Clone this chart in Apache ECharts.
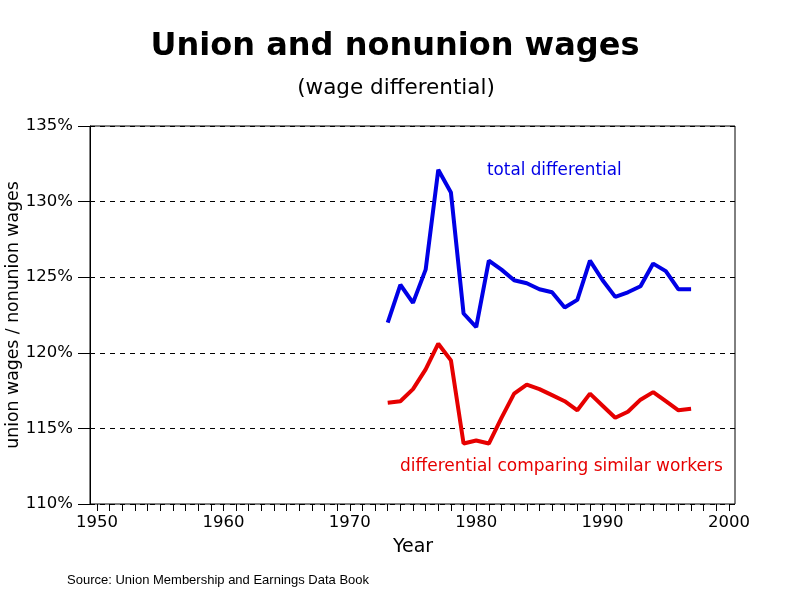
<!DOCTYPE html>
<html><head><meta charset="utf-8">
<script src="https://cdn.jsdelivr.net/npm/echarts@6/dist/echarts.min.js"></script>
<style>html,body{margin:0;padding:0;background:#fff}#c{width:800px;height:600px}</style>
</head><body><div id="c"></div>
<script>
const years = [1973,1974,1975,1976,1977,1978,1979,1980,1981,1982,1983,1984,1985,1986,1987,1988,1989,1990,1991,1992,1993,1994,1995,1996,1997];
const totalDiff = [122.0,124.5,123.3,125.5,132.1,130.6,122.6,121.7,126.1,125.5,124.8,124.6,124.2,124.0,123.0,123.5,126.1,124.8,123.7,124.0,124.4,125.9,125.4,124.2,124.2];
const similarDiff = [116.7,116.8,117.6,118.9,120.6,119.5,114.0,114.2,114.0,115.7,117.3,117.9,117.6,117.2,116.8,116.2,117.3,116.5,115.7,116.1,116.9,117.4,116.8,116.2,116.3];
const xTicks = [1950,1960,1970,1980,1990,2000];
const yTicks = [110,115,120,125,130,135];

const font = '"DejaVu Sans", Verdana, sans-serif';
const blue = '#0000e6', red = '#e60000';
const chart = echarts.init(document.getElementById('c'));
chart.setOption({
  animation: false,
  backgroundColor: '#fff',
  grid: [
    {left: 97, right: 71, top: 126, bottom: 96, containLabel: false, outerBoundsMode: 'none'},
    {left: 90, right: 65, top: 126, bottom: 96, show: true, borderColor: '#000', borderWidth: 1, containLabel: false, outerBoundsMode: 'none'}
  ],
  xAxis: [{
    gridIndex: 0, type: 'value', min: xTicks[0], max: xTicks[xTicks.length-1], interval: 10,
    name: 'Year', nameLocation: 'middle', nameGap: 34, nameMoveOverlap: false,
    nameTextStyle: {fontFamily: font, fontSize: 19, color: '#000'},
    axisLine: {show: false},
    axisTick: {show: true, length: 7, lineStyle: {color: '#000'}},
    minorTick: {show: true, splitNumber: 10, length: 7, lineStyle: {color: '#000'}},
    axisLabel: {fontFamily: font, fontSize: 16.5, color: '#000', margin: 10, formatter: v => String(v)},
    splitLine: {show: false}
  }, {
    gridIndex: 1, type: 'value', min: 0, max: 1, show: false
  }],
  yAxis: [{
    gridIndex: 0, type: 'value', min: yTicks[0], max: yTicks[yTicks.length-1], interval: 5, show: false
  }, {
    gridIndex: 1, type: 'value', min: yTicks[0], max: yTicks[yTicks.length-1], interval: 5,
    name: 'union wages / nonunion wages', nameLocation: 'middle', nameGap: 68, nameRotate: 90, nameMoveOverlap: false,
    nameTextStyle: {fontFamily: font, fontSize: 17.3, color: '#000'},
    axisLine: {show: true, lineStyle: {color: '#000', width: 1}},
    axisTick: {show: true, length: 12, lineStyle: {color: '#000'}},
    axisLabel: {fontFamily: font, fontSize: 16.5, color: '#000', margin: 17, formatter: v => v + '%'},
    splitLine: {show: true, lineStyle: {color: '#000', type: [5, 5], width: 1}}
  }],
  graphic: [
    {type: 'text', x: 395, y: 47, style: {text: 'Union and nonunion wages', font: 'bold 32px ' + font, fill: '#000', textAlign: 'center', textVerticalAlign: 'middle'}},
    {type: 'text', x: 396, y: 88, style: {text: '(wage differential)', font: '21.5px ' + font, fill: '#000', textAlign: 'center', textVerticalAlign: 'middle'}},
    {type: 'text', x: 487, y: 171, style: {text: 'total differential', font: '16.8px ' + font, fill: blue, textAlign: 'left', textVerticalAlign: 'middle'}},
    {type: 'text', x: 400, y: 467, style: {text: 'differential comparing similar workers', font: '17px ' + font, fill: red, textAlign: 'left', textVerticalAlign: 'middle'}},
    {type: 'text', x: 67, y: 580, style: {text: 'Source: Union Membership and Earnings Data Book', font: '13px "Liberation Sans", Arial, sans-serif', fill: '#000', textAlign: 'left', textVerticalAlign: 'middle'}}
  ],
  series: [
    {type: 'line', name: 'total differential', xAxisIndex: 0, yAxisIndex: 0, data: years.map((y,i)=>[y, totalDiff[i]]), showSymbol: false, lineStyle: {color: blue, width: 4}, itemStyle: {color: blue}},
    {type: 'line', name: 'differential comparing similar workers', xAxisIndex: 0, yAxisIndex: 0, data: years.map((y,i)=>[y, similarDiff[i]]), showSymbol: false, lineStyle: {color: red, width: 4}, itemStyle: {color: red}}
  ]
});
</script></body></html>
